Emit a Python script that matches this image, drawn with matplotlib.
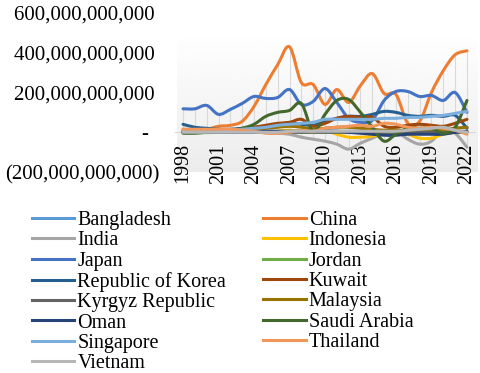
import matplotlib.pyplot as plt
import numpy as np
from matplotlib.path import Path
from matplotlib.patches import PathPatch

plt.rcParams['font.family'] = ['Liberation Serif', 'DejaVu Serif']

years = list(range(1998, 2023))

# values in billions of US$
bangladesh = [0, 0, 0, 0, 0, 0, 0, 0, 0, 5, 5, 5, 5, 5, 5, 5, 5, 5, 5, 5, 10, 10, 15, 20, 25]
china = [15, 12, 15, 30, 35, 55, 130, 240, 340, 430, 250, 240, 140, 215, 150, 235, 295, 195, 190, 45, 55, 200, 310, 390, 410]
india = [0, 0, 0, 0, 0, 0, 0, 0, -5, -10, -25, -35, -45, -60, -85, -55, -30, -5, 5, -35, -60, -45, 15, -5, -75]
indonesia = [0, 0, 0, 0, 0, 0, 0, 0, 5, 10, 0, 5, 10, -10, -25, -25, -20, -5, 0, -10, -30, -30, -10, 0, 5]
japan = [118, 118, 135, 90, 115, 145, 180, 170, 175, 215, 140, 155, 220, 150, 70, 50, 60, 160, 205, 205, 180, 185, 160, 200, 100]
jordan = [0, 0, -2, 0, 0, 0, 0, 0, 0, 0, 0, 0, 0, 0, 0, 0, 0, 0, 0, 0, 0, 0, 0, 0, 0]
korea = [40, 25, 20, 15, 15, 20, 25, 30, 35, 45, 40, 35, 55, 70, 80, 80, 90, 105, 100, 85, 80, 85, 80, 85, 20]
kuwait = [5, 5, 5, 10, 10, 15, 25, 35, 45, 50, 65, 30, 45, 70, 80, 75, 75, 30, 25, 35, 40, 35, 30, 45, 65]
kyrgyz = [0] * 25
malaysia = [5, 5, 5, 5, 5, 10, 15, 20, 25, 30, 25, 15, 20, 25, 25, 20, 15, 10, 10, 10, 15, 15, 15, 20, 25]
oman = [0, 0, 0, 0, 0, 0, 0, 5, 5, 5, 5, 5, 5, 5, 0, -5, -10, -15, -15, -10, -10, -10, -10, 0, 5]
saudi = [-5, -5, 0, 5, 10, 20, 40, 80, 100, 110, 145, 5, 90, 160, 165, 100, 25, -45, -10, 20, 20, 20, -5, 25, 160]
singapore = [10, 10, 10, 10, 10, 15, 20, 25, 35, 40, 45, 50, 65, 65, 65, 65, 65, 70, 70, 75, 75, 80, 85, 95, 105]
thailand = [15, 15, 15, 15, 15, 10, 5, -5, -5, 0, 10, 5, 20, 25, 30, 35, 30, 45, 40, 25, 20, 25, 20, 10, -10]
vietnam = [0, 0, 0, 0, 0, 0, 0, 0, 0, 5, 5, 5, 5, 5, 5, 5, 5, 5, 5, 10, 15, 20, 25, 10, 0]

names = ["Bangladesh", "China", "India", "Indonesia", "Japan", "Jordan",
         "Republic of Korea", "Kuwait", "Kyrgyz Republic", "Malaysia", "Oman",
         "Saudi Arabia", "Singapore", "Thailand", "Vietnam"]
series = [bangladesh, china, india, indonesia, japan, jordan, korea, kuwait,
          kyrgyz, malaysia, oman, saudi, singapore, thailand, vietnam]
colors = ["#5B9BD5", "#ED7D31", "#A5A5A5", "#FFC000", "#4472C4", "#70AD47",
          "#255E91", "#9E480E", "#636363", "#997300", "#264478", "#43682B",
          "#7CAFDD", "#F1975A", "#B7B7B7"]


def smooth_path(x, y):
    # Excel-style smoothed line as cubic bezier segments
    pts = np.column_stack([x, y])
    verts = [pts[0]]
    codes = [Path.MOVETO]
    n = len(pts)
    for i in range(n - 1):
        p0 = pts[max(i - 1, 0)]
        p1 = pts[i]
        p2 = pts[i + 1]
        p3 = pts[min(i + 2, n - 1)]
        c1 = p1 + (p2 - p0) / 6
        c2 = p2 - (p3 - p1) / 6
        verts += [c1, c2, p2]
        codes += [Path.CURVE4] * 3
    return Path(verts, codes)


fig = plt.figure(figsize=(4.8, 3.73), dpi=100)

# soft grey panel behind the plot
bg = fig.add_axes([177 / 480, 1 - 172 / 373, 301 / 480, 134 / 373])
grad = np.linspace(0.995, 0.925, 100).reshape(-1, 1)
bg.imshow(grad, cmap="gray", vmin=0, vmax=1, aspect="auto", extent=[0, 1, 0, 1])
bg.axis("off")

ax = fig.add_axes([175 / 480, 1 - 172 / 373, 300 / 480, 159 / 373])
ax.patch.set_alpha(0)
for s in ["top", "right", "left"]:
    ax.spines[s].set_visible(False)
ax.spines["bottom"].set_position(("data", 0))
ax.spines["bottom"].set_color("#d9d9d9")
ax.spines["bottom"].set_linewidth(0.8)

scale = 1e9
data = np.array(series) * scale

# drop lines
lo = np.minimum(data.min(axis=0), 0)
hi = np.maximum(data.max(axis=0), 0)
ax.vlines(years, lo, hi, color="#d9d9d9", lw=0.8, zorder=1)

for name, vals, c in zip(names, series, colors):
    yv = np.array(vals) * scale
    patch = PathPatch(smooth_path(np.array(years, float), yv), fill=False,
                      edgecolor=c, lw=2.2, capstyle="round", joinstyle="round", zorder=3)
    ax.add_patch(patch)
    ax.plot([], [], color=c, lw=2.2, label=name)

ax.set_xlim(1997.32, 2022.68)
ax.set_ylim(-200e9, 600e9)
yt = [-200e9, 0, 200e9, 400e9, 600e9]
ax.set_yticks(yt)


def fmt(v):
    if v == 0:
        return "-  "
    if v < 0:
        return "({:,.0f})".format(-v)
    return "{:,.0f} ".format(v)


ax.set_yticklabels([fmt(v) for v in yt], fontsize=15)
ax.set_xticks(years[::3])
ax.set_xticklabels([str(y) for y in years[::3]], rotation=90, fontsize=14.5)
ax.tick_params(axis="x", length=0, pad=8)
ax.tick_params(axis="y", length=0, pad=11)

handles, labels = ax.get_legend_handles_labels()
order = list(range(0, 15, 2)) + list(range(1, 15, 2))
fig.legend([handles[i] for i in order], [labels[i] for i in order],
           ncol=2, loc="upper left", bbox_to_anchor=(22 / 480, 1 - 201 / 373),
           frameon=False, fontsize=14.5, handlelength=2.1, handletextpad=0.15,
           columnspacing=1.85, labelspacing=0.06, borderpad=0)

fig.savefig("out.png", dpi=100)
